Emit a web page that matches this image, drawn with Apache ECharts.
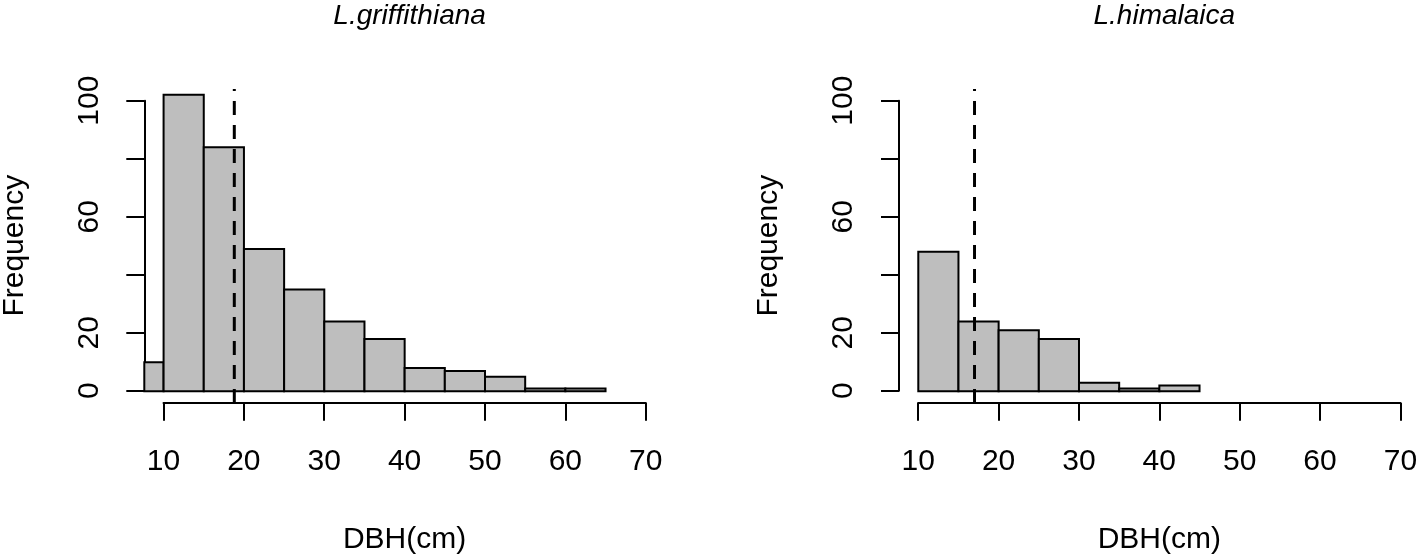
<!DOCTYPE html>
<html>
<head>
<meta charset="utf-8">
<script src="https://cdn.jsdelivr.net/npm/echarts@6/dist/echarts.min.js"></script>
<style>html,body{margin:0;padding:0;background:#fff;}#chart{width:1418px;height:554px;}</style>
</head>
<body>
<div id="chart"></div>
<script>
// ---- data ----
const panelTitles = ['L.griffithiana', 'L.himalaica'];
const binWidth = 5;
const leftBinStarts = [5, 10, 15, 20, 25, 30, 35, 40, 45, 50, 55, 60];
const leftCounts    = [10, 102, 84, 49, 35, 24, 18, 8, 7, 5, 1, 1];
const rightBinStarts = [10, 15, 20, 25, 30, 35, 40];
const rightCounts    = [48, 24, 21, 18, 3, 1, 2];
const meanDBH = [18.8, 17.0];
const xTickValues = [10, 20, 30, 40, 50, 60, 70];
const yTickLabelsShown = [0, 20, 60, 100];
const xAxisName = 'DBH(cm)';
const yAxisName = 'Frequency';

const FONT = 'Liberation Sans';
const chart = echarts.init(document.getElementById('chart'), null, {renderer: 'canvas'});

function renderBar(params, api) {
  const x0 = api.value(0), x1 = api.value(1), n = api.value(2);
  const p0 = api.coord([x0, n]);
  const p1 = api.coord([x1, 0]);
  const cs = params.coordSys;
  const r = echarts.graphic.clipRectByRect(
    {x: p0[0], y: p0[1], width: p1[0] - p0[0], height: p1[1] - p0[1]},
    {x: cs.x, y: cs.y, width: cs.width, height: cs.height});
  if (!r) return null;
  return {type: 'rect', shape: r, style: {fill: '#BEBEBE', stroke: '#000', lineWidth: 2}};
}

const panels = [
  {starts: leftBinStarts, counts: leftCounts},
  {starts: rightBinStarts, counts: rightCounts}
];
const dxs = [0, 754.7];
const grid = [], xAxis = [], yAxis = [], series = [], title = [];
const XMIN = 7.6, XMAX = 72.4, YMIN = -4, YMAX = 104;
const G = {containLabel: false, outerBoundsMode: 'none'};

panels.forEach((p, i) => {
  const dx = dxs[i];
  const g = grid.length;
  // data grid (plot region)
  grid.push(Object.assign({left: 144.3 + dx, top: 89, width: 520.7, height: 314}, G));
  // x-axis grid
  grid.push(Object.assign({left: 163.5 + dx, top: 89, width: 482.2, height: 313.7}, G));
  // y-axis grid
  grid.push(Object.assign({left: 144.3 + dx, top: 100.7, width: 100, height: 290}, G));

  xAxis.push({gridIndex: g, type: 'value', min: XMIN, max: XMAX, show: false});
  xAxis.push({
    gridIndex: g + 1, type: 'value', min: xTickValues[0], max: xTickValues[xTickValues.length - 1], interval: 10,
    axisLine: {show: true, lineStyle: {color: '#000', width: 2}},
    axisTick: {show: true, inside: false, length: 18, lineStyle: {color: '#000', width: 2}},
    axisLabel: {show: true, color: '#000', fontSize: 30, fontFamily: FONT, margin: 44},
    splitLine: {show: false},
    name: xAxisName, nameLocation: 'middle', nameGap: 122,
    nameTextStyle: {color: '#000', fontSize: 30, fontFamily: FONT}
  });
  xAxis.push({gridIndex: g + 2, type: 'value', min: 0, max: 1, show: false});

  yAxis.push({gridIndex: g, type: 'value', min: YMIN, max: YMAX, show: false});
  yAxis.push({gridIndex: g + 1, type: 'value', min: 0, max: 1, show: false});
  yAxis.push({
    gridIndex: g + 2, type: 'value', min: 0, max: 100, interval: 20,
    axisLine: {show: true, lineStyle: {color: '#000', width: 2}},
    axisTick: {show: true, inside: false, length: 18, lineStyle: {color: '#000', width: 2}},
    axisLabel: {show: true, color: '#000', fontSize: 30, fontFamily: FONT, rotate: 90, margin: 40,
      formatter: v => yTickLabelsShown.includes(v) ? String(v) : ''},
    splitLine: {show: false},
    name: yAxisName, nameLocation: 'middle', nameGap: 115,
    nameTextStyle: {color: '#000', fontSize: 30, fontFamily: FONT}
  });

  series.push({
    type: 'custom', xAxisIndex: g, yAxisIndex: g, renderItem: renderBar,
    encode: {x: 0, y: 2}, silent: true, animation: false,
    data: p.starts.map((s, k) => [s, s + binWidth, p.counts[k]])
  });
  series.push({
    type: 'line', xAxisIndex: g, yAxisIndex: g, symbol: 'none', silent: true, animation: false,
    lineStyle: {color: '#000', width: 3, type: [14, 10]},
    data: [[meanDBH[i], YMIN], [meanDBH[i], YMAX]]
  });

  title.push({
    text: panelTitles[i], left: 404.6 + dx, top: -3, textAlign: 'center',
    textStyle: {color: '#000', fontSize: 28, fontStyle: 'italic', fontWeight: 'normal', fontFamily: FONT}
  });
});

chart.setOption({animation: false, backgroundColor: '#fff', title, grid, xAxis, yAxis, series});
</script>
</body>
</html>
